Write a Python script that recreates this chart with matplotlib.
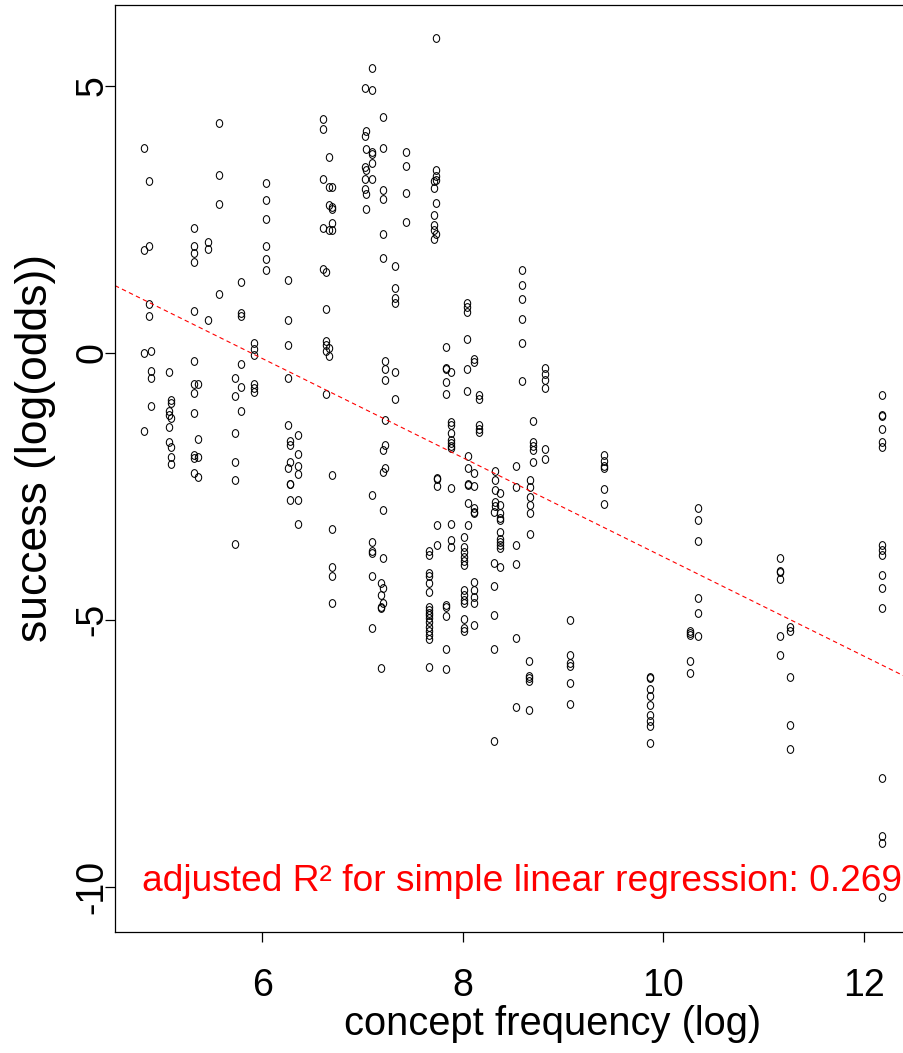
import numpy as np
import matplotlib
matplotlib.use("Agg")
import matplotlib.pyplot as plt
from matplotlib.path import Path
from matplotlib.transforms import Affine2D

plt.rcParams['font.family'] = ['Liberation Sans', 'DejaVu Sans']

# concept frequency (log) per column, and success (log odds) of each item in it
col_x = [4.82, 4.87, 4.89, 5.07, 5.09, 5.32, 5.36, 5.46, 5.57, 5.73, 5.79, 5.92,
         6.04, 6.26, 6.28, 6.36, 6.61, 6.64, 6.67, 6.70, 7.02, 7.03, 7.09, 7.18,
         7.20, 7.22, 7.32, 7.43, 7.66, 7.71, 7.73, 7.74, 7.83, 7.88, 8.01, 8.04,
         8.05, 8.11, 8.16, 8.31, 8.32, 8.37, 8.53, 8.59, 8.66, 8.67, 8.70, 8.82,
         9.07, 9.41, 9.87, 10.27, 10.35, 11.17, 11.27, 12.18]

col_y = [
    [3.84, 1.92, 0.00, -1.46],
    [3.22, 1.99, 0.92, 0.69],
    [0.04, -0.35, -0.47, -0.99],
    [-0.36, -1.09, -1.17, -1.39, -1.68],
    [-0.89, -0.95, -1.22, -1.77, -1.96, -2.09],
    [2.34, 1.99, 1.86, 1.69, 0.79, -0.16, -0.58, -0.75, -1.13, -1.92, -1.98, -2.25],
    [-0.58, -1.62, -1.95, -2.32],
    [2.07, 1.94, 0.61],
    [4.30, 3.33, 2.78, 1.10],
    [-0.47, -0.82, -1.50, -2.05, -2.38, -3.58],
    [1.32, 0.74, 0.69, -0.22, -0.65, -1.10],
    [0.18, 0.06, -0.05, -0.58, -0.67, -0.74],
    [3.17, 2.86, 2.51, 2.00, 1.76, 1.54],
    [1.36, 0.61, 0.15, -0.47, -1.35, -2.16],
    [-1.65, -1.72, -2.05, -2.45, -2.45, -2.76],
    [-1.55, -1.90, -2.12, -2.28, -2.76, -3.20],
    [4.37, 4.19, 3.26, 2.34, 1.57],
    [1.52, 0.81, 0.22, 0.14, 0.03, -0.77],
    [3.66, 3.11, 2.76, 2.30, 0.08, -0.07],
    [3.11, 2.73, 2.70, 2.42, 2.30, -2.29, -3.31, -4.02, -4.19, -4.69],
    [4.96, 4.06, 3.47, 3.26, 3.07],
    [4.16, 3.81, 3.42, 2.97, 2.69],
    [5.33, 4.92, 3.75, 3.72, 3.55, 3.26, -2.66, -3.55, -3.71, -3.75, -4.19, -5.16],
    [-4.32, -4.54, -4.76, -4.79, -5.91],
    [4.41, 3.84, 3.04, 2.87, 2.23, 1.78, -1.82, -2.23, -2.94, -3.84, -4.41, -4.69],
    [-0.16, -0.31, -0.51, -1.26, -1.72, -2.15],
    [1.63, 1.22, 1.03, 0.93, -0.36, -0.87],
    [3.75, 3.50, 3.00, 2.45],
    [-3.71, -3.79, -4.13, -4.19, -4.32, -4.48, -4.76, -4.82, -4.88, -4.91, -4.97,
     -5.04, -5.13, -5.22, -5.29, -5.36, -5.88],
    [3.21, 3.08, 2.58, 2.40, 2.30, 2.13],
    [5.89, 3.42, 3.31, 3.23, 2.80, 2.22],
    [-2.34, -2.37, -2.49, -3.23, -3.60],
    [0.11, -0.29, -0.31, -0.55, -0.77, -4.72, -4.76, -4.94, -5.55, -5.93],
    [-0.37, -1.29, -1.35, -1.51, -1.63, -1.70, -1.74, -1.78, -2.54, -3.20, -3.51, -3.63],
    [-3.45, -3.63, -3.73, -3.82, -3.91, -3.98, -4.44, -4.54, -4.63, -4.69, -4.99, -5.16, -5.21],
    [0.93, 0.86, 0.77, 0.26, -0.31, -0.71],
    [-1.93, -2.15, -2.45, -2.48, -2.82, -3.23],
    [-0.11, -0.17, -2.25, -2.49, -2.91, -2.98, -3.01, -4.29, -4.44, -4.57, -4.69, -5.09],
    [-0.79, -0.87, -1.35, -1.42, -1.48],
    [-2.99, -3.93, -4.37, -4.91, -5.55, -7.28],
    [-2.21, -2.38, -2.57, -2.79, -2.88],
    [-2.63, -2.85, -3.01, -3.10, -3.13, -3.35, -3.48, -3.54, -3.60, -3.66, -4.02],
    [-2.12, -2.52, -3.61, -3.96, -5.34, -6.63],
    [1.54, 1.27, 1.01, 0.64, 0.19, -0.53],
    [-5.77, -6.05, -6.10, -6.14, -6.69],
    [-2.38, -2.52, -2.71, -2.86, -3.00, -3.40],
    [-1.28, -1.67, -1.74, -1.82, -2.05],
    [-0.29, -0.39, -0.51, -0.67, -1.81, -1.99],
    [-5.01, -5.67, -5.82, -5.86, -6.18, -6.58],
    [-1.91, -2.02, -2.13, -2.16, -2.56, -2.83],
    [-6.07, -6.09, -6.30, -6.42, -6.60, -6.78, -6.90, -6.99, -7.31],
    [-5.21, -5.25, -5.29, -5.78, -6.00],
    [-2.91, -3.13, -3.53, -4.59, -4.87, -5.30],
    [-3.84, -4.08, -4.10, -4.23, -5.30, -5.67],
    [-5.13, -5.21, -6.07, -6.98, -7.43],
    [-0.80, -1.17, -1.18, -1.43, -1.67, -1.77, -3.60, -3.69, -3.79, -4.17, -4.41,
     -4.79, -7.97, -9.05, -9.19, -10.19],
]

x_ticks = [6, 8, 10, 12]
y_ticks = [-10, -5, 0, 5]
y_tick_labels = ["-10", "-5", "0", "5"]
x_label = "concept frequency (log)"
y_label = "success (log(odds))"
r2_text = "adjusted R\u00b2 for simple linear regression: 0.269"

freq = np.concatenate([np.full(len(ys), xv) for xv, ys in zip(col_x, col_y)])
success = np.concatenate([np.asarray(ys, dtype=float) for ys in col_y])

# least-squares line through all items
slope, intercept = np.polyfit(freq, success, 1)

W, H = 904, 1053
fig = plt.figure(figsize=(W / 100, H / 100), dpi=100)
ax = fig.add_axes([115 / W, (H - 932.3) / H, (W - 115) / W, (932.3 - 4.7) / H])
ax.set_xlim(4.530, 12.404)
ax.set_ylim(-10.854, 6.517)

# open, slightly upright circles as plotting symbol
ring = Path.unit_circle().transformed(Affine2D().scale(0.82, 1.0))
ax.plot(freq, success, linestyle='none', marker=ring, markersize=5.6,
        markerfacecolor='none', markeredgecolor='black', markeredgewidth=0.75)

ax.axline((0, intercept), slope=slope, color='#ff0000', linewidth=0.8,
          linestyle=(0, (4, 3)))

ax.text(8.59, -9.90, r2_text, color='#ff0000', fontsize=26.75, ha='center', va='center')

ax.spines['right'].set_visible(False)
for side in ('left', 'top', 'bottom'):
    ax.spines[side].set_linewidth(0.9)
    ax.spines[side].set_color('black')

ax.set_xticks(x_ticks)
ax.set_xticklabels([str(t) for t in x_ticks])
ax.set_yticks(y_ticks)
ax.set_yticklabels(y_tick_labels, rotation=90, va='center')
ax.tick_params(axis='both', direction='out', length=7.5, width=0.9, labelsize=27,
               color='black')
ax.tick_params(axis='x', pad=18)
ax.tick_params(axis='y', pad=-4.5)

ax.set_xlabel(x_label, fontsize=28.7, va='center')
ax.xaxis.set_label_coords((553 - 115) / (W - 115), (932.3 - 1024) / 927.6)
ax.set_ylabel(y_label, fontsize=32, va='center')
ax.yaxis.set_label_coords((36 - 115) / (W - 115), (932.3 - 448) / 927.6)

fig.savefig("out.png", dpi=100)
